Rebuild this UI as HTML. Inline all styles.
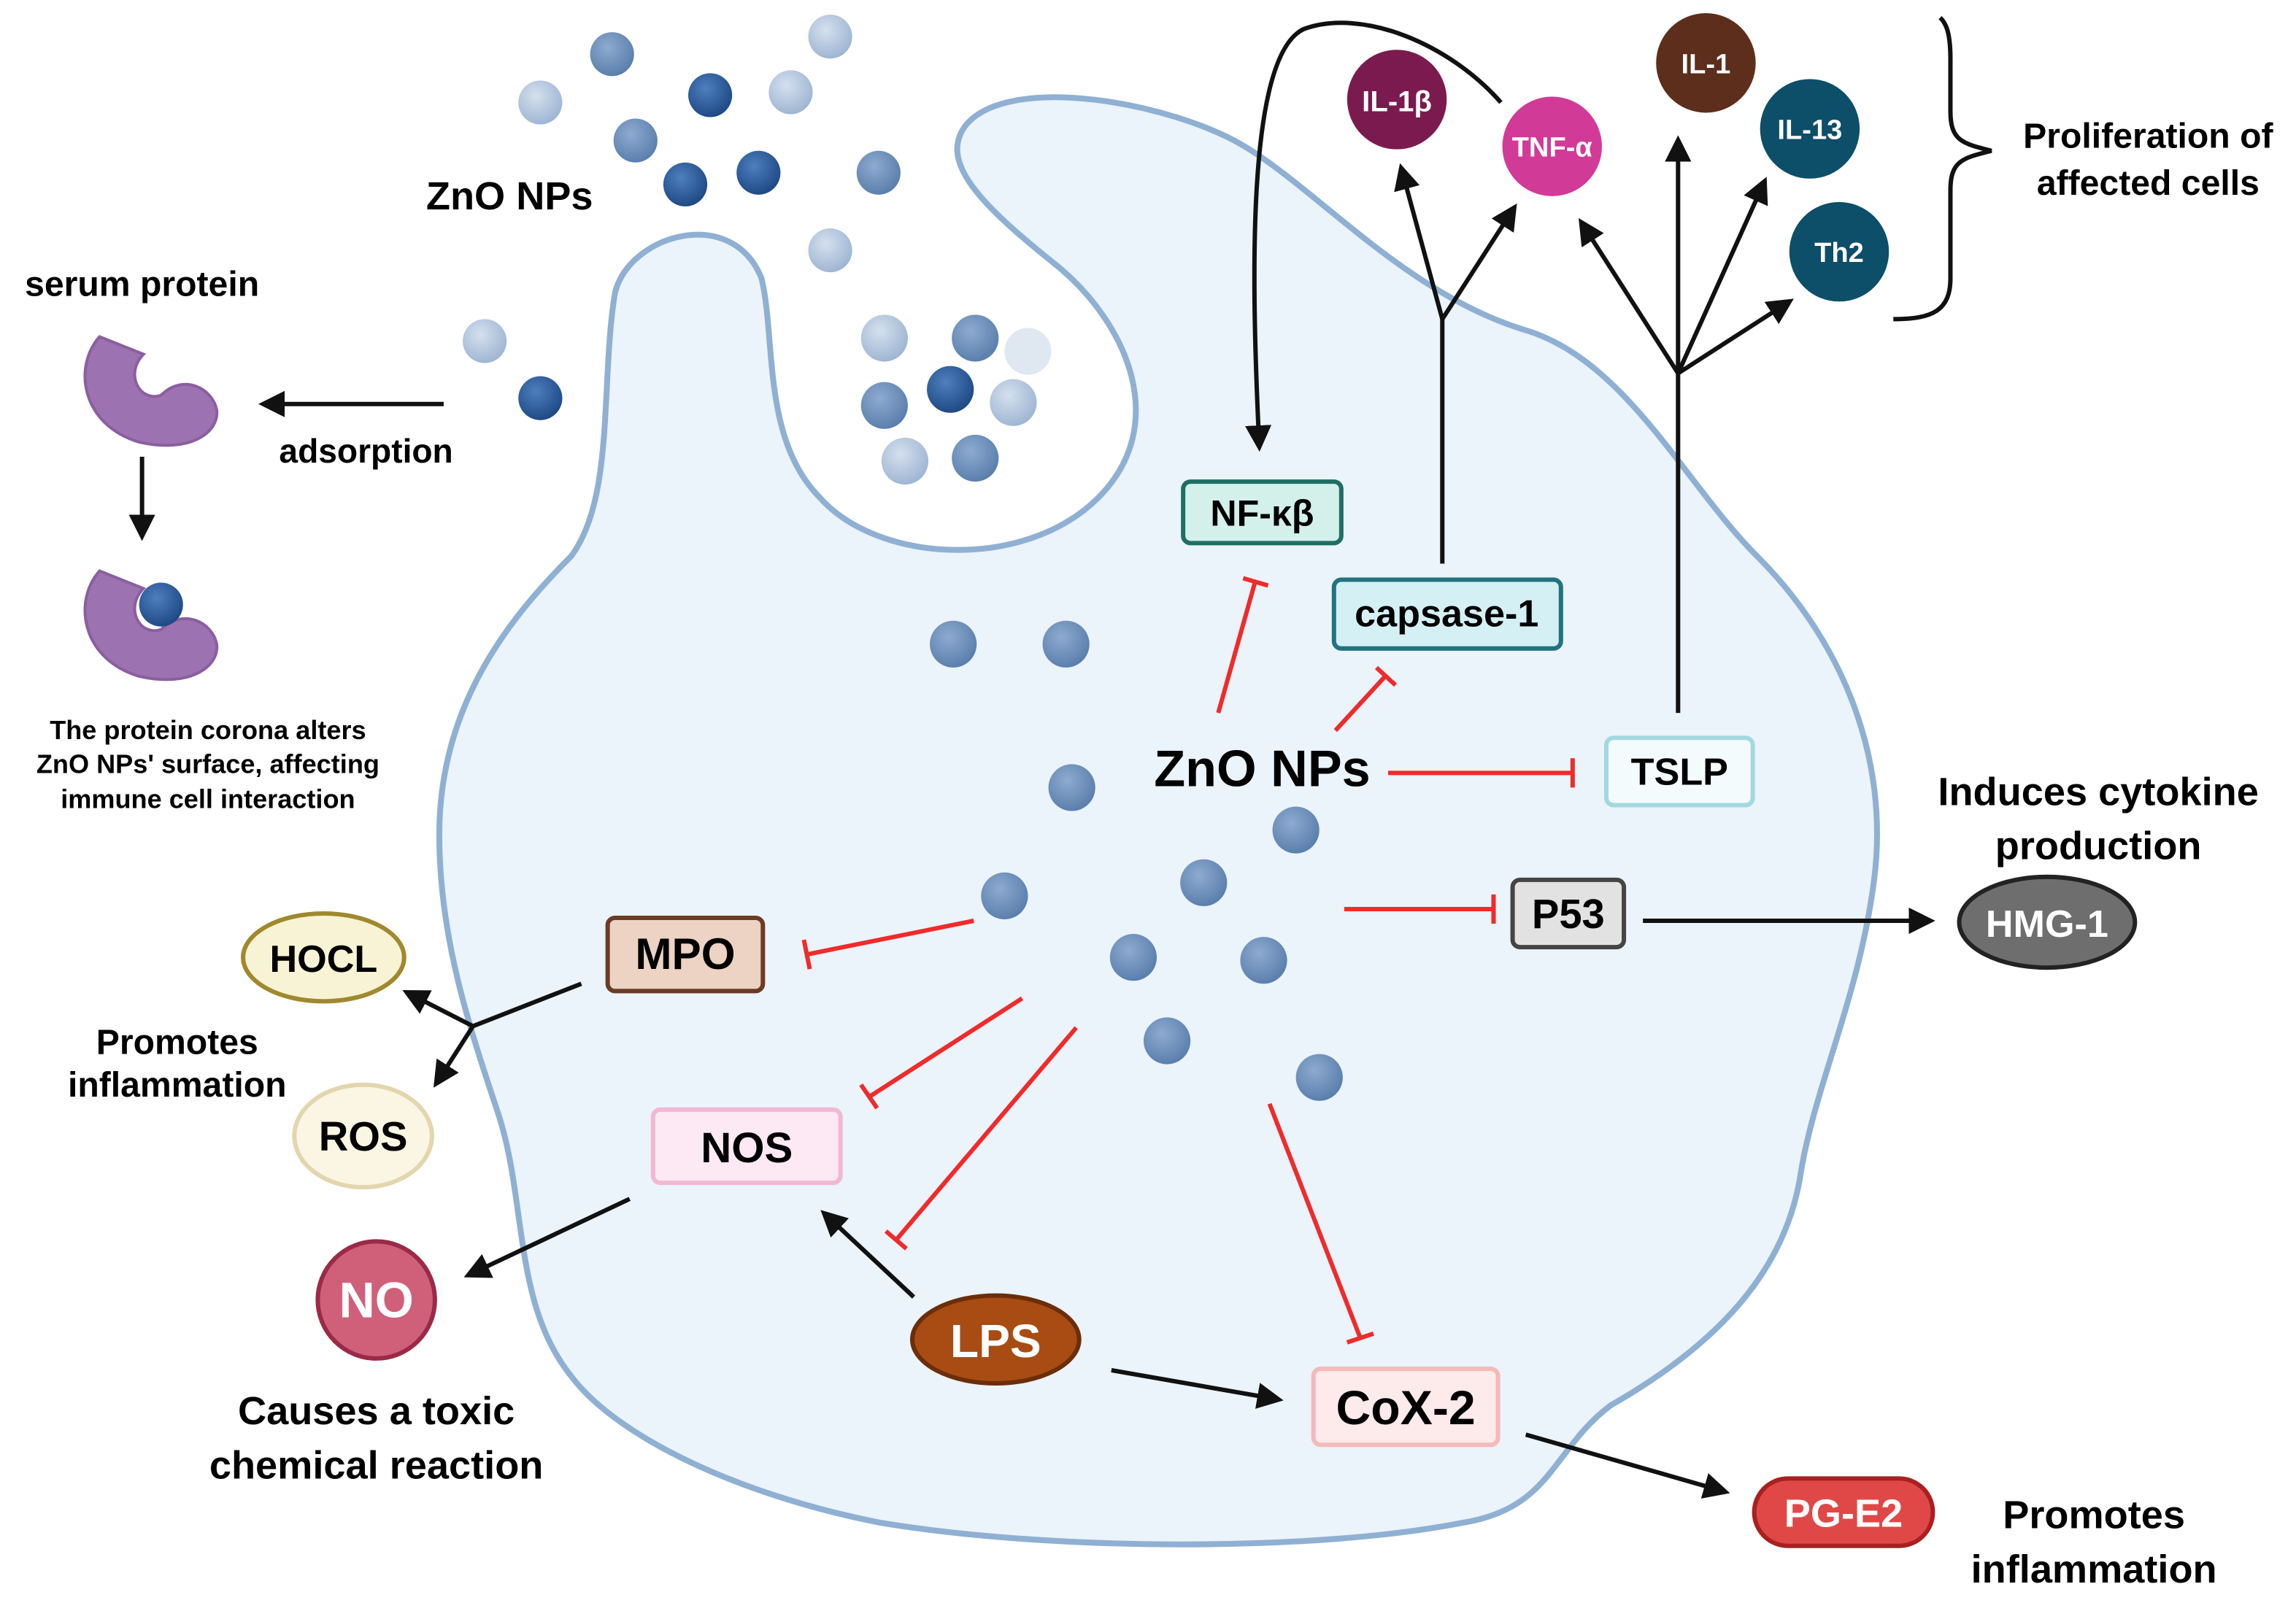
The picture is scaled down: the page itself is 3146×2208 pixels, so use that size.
<!DOCTYPE html>
<html><head><meta charset="utf-8"><style>
html,body{margin:0;padding:0;background:#fff;}
svg{display:block;}
text{font-family:"Liberation Sans",sans-serif;font-weight:bold;}
</style></head><body>
<svg width="3146" height="2208" viewBox="0 0 1568 1100.5" preserveAspectRatio="none" xmlns="http://www.w3.org/2000/svg">
<defs>
<radialGradient id="gl" cx="40%" cy="35%" r="65%"><stop offset="0" stop-color="#d5e0ee"/><stop offset="1" stop-color="#9fb6d3"/></radialGradient>
<radialGradient id="gm" cx="40%" cy="35%" r="65%"><stop offset="0" stop-color="#8eabd0"/><stop offset="1" stop-color="#5b7fad"/></radialGradient>
<radialGradient id="gd" cx="40%" cy="35%" r="65%"><stop offset="0" stop-color="#4f7fbf"/><stop offset="1" stop-color="#1f4a86"/></radialGradient>
<marker id="ah" viewBox="0 0 10 10" refX="8" refY="5" markerWidth="6" markerHeight="6" orient="auto-start-reverse"><path d="M0,0 L10,5 L0,10 z" fill="#111"/></marker>
<marker id="tb" viewBox="0 0 4 20" refX="2" refY="10" markerWidth="3" markerHeight="8" orient="auto"><rect x="0" y="0" width="4" height="20" fill="#ef2b2b"/></marker>
</defs>
<!-- cell -->
<path d="M420,200 C430,160 500,140 520,190 C530,230 520,300 560,340 C600,385 700,390 750,340 C800,290 770,220 720,180 C670,140 640,110 660,85 C690,50 800,70 850,100 C900,130 960,200 1040,225 C1110,245 1150,330 1200,380 C1260,440 1290,520 1280,600 C1270,680 1240,740 1230,800 C1220,870 1170,920 1100,960 C1060,990 1060,1030 1000,1040 C900,1060 720,1060 600,1040 C500,1020 420,980 390,940 C350,890 360,820 340,760 C320,700 300,640 300,570 C300,480 350,420 390,380 C420,340 410,260 420,200 Z" fill="#ebf3fb" stroke="#8fb0d2" stroke-width="4"/>
<!-- particles outside -->
<g>
<circle cx="567" cy="25" r="15" fill="url(#gl)"/>
<circle cx="418" cy="37" r="15" fill="url(#gm)"/>
<circle cx="369" cy="70" r="15" fill="url(#gl)"/>
<circle cx="485" cy="65" r="15" fill="url(#gd)"/>
<circle cx="540" cy="63" r="15" fill="url(#gl)"/>
<circle cx="434" cy="96" r="15" fill="url(#gm)"/>
<circle cx="468" cy="126" r="15" fill="url(#gd)"/>
<circle cx="518" cy="118" r="15" fill="url(#gd)"/>
<circle cx="600" cy="118" r="15" fill="url(#gm)"/>
<circle cx="567" cy="171" r="15" fill="url(#gl)"/>
<circle cx="331" cy="233" r="15" fill="url(#gl)"/>
<circle cx="369" cy="272" r="15" fill="url(#gd)"/>
<circle cx="604" cy="231" r="16" fill="url(#gl)"/>
<circle cx="666" cy="231" r="16" fill="url(#gm)"/>
<circle cx="702" cy="240" r="16" fill="#dfe7f1"/>
<circle cx="604" cy="277" r="16" fill="url(#gm)"/>
<circle cx="649" cy="266" r="16" fill="url(#gd)"/>
<circle cx="692" cy="275" r="16" fill="url(#gl)"/>
<circle cx="618" cy="315" r="16" fill="url(#gl)"/>
<circle cx="666" cy="313" r="16" fill="url(#gm)"/>
<circle cx="651" cy="440" r="16" fill="url(#gm)"/>
<circle cx="728" cy="440" r="16" fill="url(#gm)"/>
<circle cx="732" cy="538" r="16" fill="url(#gm)"/>
<circle cx="885" cy="567" r="16" fill="url(#gm)"/>
<circle cx="686" cy="612" r="16" fill="url(#gm)"/>
<circle cx="822" cy="603" r="16" fill="url(#gm)"/>
<circle cx="774" cy="654" r="16" fill="url(#gm)"/>
<circle cx="863" cy="656" r="16" fill="url(#gm)"/>
<circle cx="797" cy="711" r="16" fill="url(#gm)"/>
<circle cx="901" cy="736" r="16" fill="url(#gm)"/>
</g>
<text x="348" y="143" font-size="27" text-anchor="middle">ZnO NPs</text>
<text x="97" y="202" font-size="24" text-anchor="middle">serum protein</text>
<!-- serum proteins -->
<path d="M68,230 C50,250 55,290 95,302 C130,310 150,295 148,280 C145,265 125,255 110,270 C95,275 85,255 98,242 Z" fill="#9d72b0" stroke="#8a5fa0" stroke-width="2"/>
<path d="M68,390 C50,410 55,450 95,462 C130,470 150,455 148,440 C145,425 125,415 110,430 C95,435 85,415 98,402 Z" fill="#9d72b0" stroke="#8a5fa0" stroke-width="2"/>
<circle cx="110" cy="413" r="15" fill="url(#gd)"/>
<line x1="303" y1="276" x2="180" y2="276" stroke="#111" stroke-width="3" marker-end="url(#ah)"/>
<text x="250" y="316" font-size="23" text-anchor="middle">adsorption</text>
<line x1="97" y1="312" x2="97" y2="366" stroke="#111" stroke-width="3" marker-end="url(#ah)"/>
<text font-size="18" text-anchor="middle"><tspan x="142" y="505">The protein corona alters</tspan><tspan x="142" y="528">ZnO NPs' surface, affecting</tspan><tspan x="142" y="552">immune cell interaction</tspan></text>
<!-- top curve arrow -->
<path d="M1025,70 C990,30 930,5 890,20 C850,40 855,200 860,305" fill="none" stroke="#111" stroke-width="3" marker-end="url(#ah)"/>
<!-- cytokines -->
<circle cx="954" cy="68" r="34" fill="#7b1a4e"/><text x="954" y="76" font-size="20" fill="#fff" text-anchor="middle">IL-1β</text>
<circle cx="1060" cy="100" r="34" fill="#d23a97"/><text x="1060" y="107" font-size="19" fill="#fff" text-anchor="middle">TNF-α</text>
<circle cx="1165" cy="43" r="34" fill="#5c2e1b"/><text x="1165" y="50" font-size="19" fill="#fff" text-anchor="middle">IL-1</text>
<circle cx="1236" cy="88" r="34" fill="#0d4e68"/><text x="1236" y="95" font-size="19" fill="#fff" text-anchor="middle">IL-13</text>
<circle cx="1256" cy="172" r="34" fill="#0d4e68"/><text x="1256" y="179" font-size="19" fill="#fff" text-anchor="middle">Th2</text>
<path d="M1293,218 C1320,218 1332,212 1332,190 L1332,130 C1332,110 1340,108 1360,103 C1340,98 1332,96 1332,76 L1332,40 C1332,20 1328,15 1325,12" fill="none" stroke="#111" stroke-width="3"/>
<text font-size="24" text-anchor="middle"><tspan x="1467" y="101">Proliferation of</tspan><tspan x="1467" y="133">affected cells</tspan></text>
<!-- capsase branches -->
<line x1="985" y1="385" x2="985" y2="218" stroke="#111" stroke-width="3"/>
<line x1="985" y1="218" x2="957" y2="115" stroke="#111" stroke-width="3" marker-end="url(#ah)"/>
<line x1="985" y1="218" x2="1034" y2="142" stroke="#111" stroke-width="3" marker-end="url(#ah)"/>
<line x1="1146" y1="487" x2="1146" y2="255" stroke="#111" stroke-width="3"/>
<line x1="1146" y1="255" x2="1146" y2="96" stroke="#111" stroke-width="3" marker-end="url(#ah)"/>
<line x1="1146" y1="255" x2="1080" y2="152" stroke="#111" stroke-width="3" marker-end="url(#ah)"/>
<line x1="1146" y1="255" x2="1205" y2="124" stroke="#111" stroke-width="3" marker-end="url(#ah)"/>
<line x1="1146" y1="255" x2="1222" y2="206" stroke="#111" stroke-width="3" marker-end="url(#ah)"/>
<!-- boxes -->
<rect x="808" y="329" width="108" height="42" rx="5" fill="#d3f0ea" stroke="#1f6e64" stroke-width="3"/><text x="862" y="359" font-size="25" text-anchor="middle">NF-κβ</text>
<rect x="911" y="396" width="155" height="47" rx="5" fill="#d4f0f4" stroke="#21737e" stroke-width="3"/><text x="988" y="428" font-size="26" text-anchor="middle">capsase-1</text>
<rect x="1097" y="504" width="100" height="46" rx="5" fill="#f4fbfd" stroke="#a3d8e1" stroke-width="3"/><text x="1147" y="536" font-size="26" text-anchor="middle">TSLP</text>
<text x="862" y="537" font-size="35" text-anchor="middle">ZnO NPs</text>
<text font-size="27" text-anchor="middle"><tspan x="1433" y="550">Induces cytokine</tspan><tspan x="1433" y="587">production</tspan></text>
<rect x="1033" y="601" width="76" height="46" rx="5" fill="#e2e2e2" stroke="#444" stroke-width="3"/><text x="1071" y="634" font-size="28" text-anchor="middle">P53</text>
<line x1="1122" y1="629" x2="1318" y2="629" stroke="#111" stroke-width="3" marker-end="url(#ah)"/>
<ellipse cx="1398" cy="630" rx="60" ry="31" fill="#6e6e6e" stroke="#222" stroke-width="3"/><text x="1398" y="640" font-size="26" fill="#fff" text-anchor="middle">HMG-1</text>
<rect x="415" y="627" width="106" height="50" rx="5" fill="#ecd3c4" stroke="#6b3b24" stroke-width="3"/><text x="468" y="662" font-size="30" text-anchor="middle">MPO</text>
<ellipse cx="221" cy="654" rx="55" ry="30" fill="#f8f3d5" stroke="#a0892d" stroke-width="3"/><text x="221" y="664" font-size="26" text-anchor="middle">HOCL</text>
<ellipse cx="248" cy="776" rx="47" ry="35" fill="#fbf5e3" stroke="#e3d6ae" stroke-width="3"/><text x="248" y="786" font-size="28" text-anchor="middle">ROS</text>
<polyline points="397,672 323,701" fill="none" stroke="#111" stroke-width="3"/>
<line x1="323" y1="701" x2="278" y2="678" stroke="#111" stroke-width="3" marker-end="url(#ah)"/>
<line x1="323" y1="701" x2="298" y2="740" stroke="#111" stroke-width="3" marker-end="url(#ah)"/>
<text font-size="24" text-anchor="middle"><tspan x="121" y="720">Promotes</tspan><tspan x="121" y="749">inflammation</tspan></text>
<rect x="446" y="758" width="128" height="50" rx="5" fill="#fde9f3" stroke="#f2b8d2" stroke-width="3"/><text x="510" y="794" font-size="29" text-anchor="middle">NOS</text>
<line x1="430" y1="819" x2="320" y2="871" stroke="#111" stroke-width="3" marker-end="url(#ah)"/>
<circle cx="257" cy="888" r="40" fill="#d0607a" stroke="#9a2a48" stroke-width="3"/><text x="257" y="900" font-size="34" fill="#fff" text-anchor="middle">NO</text>
<text font-size="27" text-anchor="middle"><tspan x="257" y="973">Causes a toxic</tspan><tspan x="257" y="1010">chemical reaction</tspan></text>
<ellipse cx="680" cy="915" rx="57" ry="30" fill="#a84c14" stroke="#6b2e0a" stroke-width="3"/><text x="680" y="927" font-size="32" fill="#fff" text-anchor="middle">LPS</text>
<line x1="624" y1="886" x2="563" y2="829" stroke="#111" stroke-width="3" marker-end="url(#ah)"/>
<line x1="759" y1="936" x2="873" y2="956" stroke="#111" stroke-width="3" marker-end="url(#ah)"/>
<rect x="897" y="935" width="126" height="52" rx="5" fill="#fdeaea" stroke="#f4b9b9" stroke-width="3"/><text x="960" y="973" font-size="33" text-anchor="middle">CoX-2</text>
<line x1="1042" y1="980" x2="1178" y2="1019" stroke="#111" stroke-width="3" marker-end="url(#ah)"/>
<rect x="1198" y="1010" width="122" height="46" rx="23" fill="#e04848" stroke="#a82020" stroke-width="3"/><text x="1259" y="1043" font-size="27" fill="#fff" text-anchor="middle">PG-E2</text>
<text font-size="27" text-anchor="middle"><tspan x="1430" y="1044">Promotes</tspan><tspan x="1430" y="1081">inflammation</tspan></text>
<!-- red inhibitions -->
<g stroke="#ef2b2b" stroke-width="3" fill="none">
<line x1="832" y1="487" x2="857" y2="398"/><line x1="849" y1="395" x2="866" y2="400"/>
<line x1="912" y1="499" x2="946" y2="462"/><line x1="940" y1="456" x2="953" y2="468"/>
<line x1="948" y1="528" x2="1074" y2="528"/><line x1="1074" y1="518" x2="1074" y2="538"/>
<line x1="918" y1="621" x2="1020" y2="621"/><line x1="1020" y1="611" x2="1020" y2="631"/>
<line x1="665" y1="629" x2="551" y2="652"/><line x1="549" y1="642" x2="553" y2="662"/>
<line x1="698" y1="682" x2="594" y2="749"/><line x1="588" y1="741" x2="599" y2="757"/>
<line x1="735" y1="702" x2="612" y2="847"/><line x1="605" y1="841" x2="619" y2="853"/>
<line x1="867" y1="754" x2="929" y2="914"/><line x1="920" y1="917" x2="938" y2="911"/>
</g>
</svg>
</body></html>
